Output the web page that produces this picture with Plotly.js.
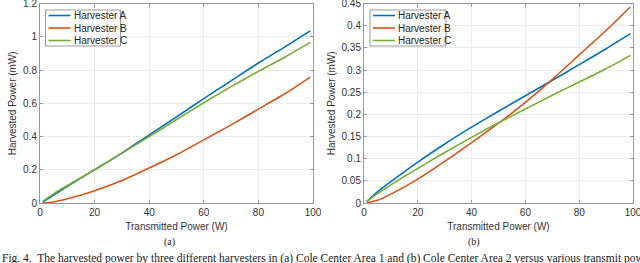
<!DOCTYPE html>
<html><head><meta charset="utf-8">
<script src="https://cdn.plot.ly/plotly-3.0.1.min.js"></script>
<style>html,body{margin:0;padding:0;background:#fff;}#chart{width:640px;height:263px;}</style>
</head><body><div id="chart"></div>
<script>
// Transmitted power (W)
const txPower = [1, 5, 10, 20, 30, 40, 50, 60, 70, 80, 90, 99];
// (a) harvested power (mW)
const aHarvA = [0.005, 0.048, 0.1, 0.2, 0.3, 0.41, 0.518, 0.628, 0.735, 0.842, 0.942, 1.035];
const aHarvB = [0.0, 0.006, 0.025, 0.073, 0.135, 0.21, 0.29, 0.38, 0.47, 0.565, 0.66, 0.757];
const aHarvC = [0.01, 0.055, 0.105, 0.2, 0.3, 0.4, 0.502, 0.603, 0.7, 0.792, 0.88, 0.966];
// (b) harvested power (mW)
const bHarvA = [0.003, 0.025, 0.048, 0.092, 0.133, 0.171, 0.207, 0.242, 0.277, 0.312, 0.348, 0.382];
const bHarvB = [0.0, 0.006, 0.02, 0.054, 0.094, 0.136, 0.18, 0.227, 0.279, 0.334, 0.389, 0.442];
const bHarvC = [0.003, 0.021, 0.041, 0.078, 0.114, 0.148, 0.181, 0.212, 0.243, 0.273, 0.303, 0.333];
const seriesNames = ['Harvester A', 'Harvester B', 'Harvester C'];
const xTicks = [0, 20, 40, 60, 80, 100];

const colors = ['#0072BD', '#D95319', '#77AC30'];
const font = 'Liberation Sans, Arial, sans-serif';
const W = 640, H = 263;

function tr(y, i, xa, ya) {
  return {x: txPower, y: y, name: seriesNames[i], type: 'scatter', mode: 'lines',
    line: {color: colors[i], width: 1.6, shape: 'spline', smoothing: 0.6},
    xaxis: xa, yaxis: ya, showlegend: false};
}
const data = [
  tr(aHarvA, 0, 'x', 'y'), tr(aHarvB, 1, 'x', 'y'), tr(aHarvC, 2, 'x', 'y'),
  tr(bHarvA, 0, 'x2', 'y2'), tr(bHarvB, 1, 'x2', 'y2'), tr(bHarvC, 2, 'x2', 'y2')
];

const yTop = 1 - 3.5/H, yBot = 1 - 203/H;
function xax(dom, anchor) {
  return {domain: dom, anchor: anchor, range: [0, 100], tickvals: xTicks,
    showgrid: true, gridcolor: '#ebebeb', zeroline: false,
    showline: true, linecolor: '#999', linewidth: 1, mirror: 'ticks',
    ticks: 'inside', ticklen: 3, tickcolor: '#999', ticklabeloverflow: 'allow',
    tickfont: {family: font, size: 10, color: '#333'},
    title: {text: 'Transmitted Power (W)', font: {family: font, size: 10, color: '#333'}, standoff: 5}};
}
function yax(range, dtick, anchor) {
  return {domain: [yBot, yTop], anchor: anchor, range: range, dtick: dtick,
    showgrid: true, gridcolor: '#ebebeb', zeroline: false,
    showline: true, linecolor: '#999', linewidth: 1, mirror: 'ticks',
    ticks: 'inside', ticklen: 3, tickcolor: '#999', ticklabeloverflow: 'allow',
    tickfont: {family: font, size: 10, color: '#333'},
    title: {text: 'Harvested Power (mW)', font: {family: font, size: 10, color: '#333'}, standoff: 4}};
}

// Custom compact legends (MATLAB style), in paper pixels
const shapes = [], annotations = [];
function legend(x0, y0, w) {
  const rowH = 12.5, h = 36;
  shapes.push({type: 'rect', xref: 'paper', yref: 'paper',
    x0: x0/W, x1: (x0 + w)/W, y0: 1 - y0/H, y1: 1 - (y0 + h)/H,
    line: {color: '#999', width: 1}, fillcolor: '#fff', layer: 'above'});
  seriesNames.forEach((n, i) => {
    const yc = y0 + 5.5 + i * rowH;
    shapes.push({type: 'line', xref: 'paper', yref: 'paper',
      x0: (x0 + 3)/W, x1: (x0 + 25)/W, y0: 1 - yc/H, y1: 1 - yc/H,
      line: {color: colors[i], width: 1.6}, layer: 'above'});
    annotations.push({text: n, xref: 'paper', yref: 'paper', x: (x0 + 26)/W, y: 1 - yc/H,
      xanchor: 'left', yanchor: 'middle', showarrow: false,
      font: {family: font, size: 10, color: '#222'}});
  });
}
legend(45.5, 10, 75);
legend(370, 10, 76);

const serif = 'Liberation Serif, Times New Roman, serif';
annotations.push(
  {text: '(a)', xref: 'paper', yref: 'paper', x: 162/W, y: 1 - 242/H, showarrow: false, yanchor: 'middle',
   font: {family: serif, size: 10, color: '#222'}},
  {text: '(b)', xref: 'paper', yref: 'paper', x: 482/W, y: 1 - 242/H, showarrow: false, yanchor: 'middle',
   font: {family: serif, size: 10, color: '#222'}},
  {text: 'Fig. 4.  The harvested power by three different harvesters in (a) Cole Center Area 1 and (b) Cole Center Area 2 versus various transmit power and comparative',
   xref: 'paper', yref: 'paper', x: 0, xanchor: 'left', y: 1 - 258/H, yanchor: 'middle', showarrow: false,
   font: {family: serif, size: 11.5, color: '#222'}}
);

const layout = {
  width: W, height: H, margin: {l: 0, r: 0, t: 0, b: 0},
  paper_bgcolor: '#fff', plot_bgcolor: '#fff', showlegend: false,
  xaxis: xax([40/W, 313/W], 'y'),
  yaxis: yax([0, 1.2], 0.2, 'x'),
  xaxis2: xax([364/W, 633/W], 'y2'),
  yaxis2: yax([0, 0.45], 0.05, 'x2'),
  shapes: shapes, annotations: annotations
};
Plotly.newPlot('chart', data, layout, {displayModeBar: false, staticPlot: true});
</script></body></html>
